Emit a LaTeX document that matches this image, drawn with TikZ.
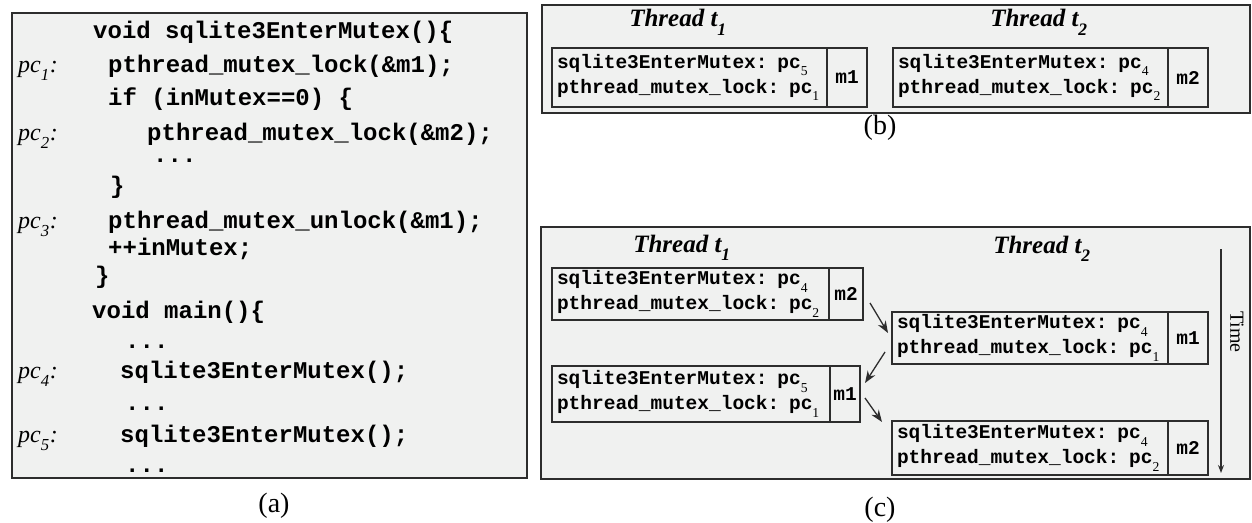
\documentclass[tikz,border=0pt]{standalone}
\usepackage{fontspec}
\setmainfont{Liberation Serif}
\newfontfamily\codefont{Liberation Mono}
\usetikzlibrary{positioning, arrows.meta}

\definecolor{panelgray}{RGB}{240,241,240}
\definecolor{linegray}{RGB}{45,45,45}
\newcommand{\lowsub}[1]{\raisebox{-0.45ex}{\textsubscript{#1}}}
\newcommand{\pcsub}[1]{pc\lowsub{\rmfamily\mdseries #1}}
\newcommand{\pclabel}[1]{pc\lowsub{#1}:}

\tikzset{
    panel/.style={draw=linegray, line width=2pt, fill=panelgray},
    codeline/.style={anchor=base west, inner sep=0pt,
        font={\codefont\bfseries\fontsize{24}{28}\selectfont}},
    pcmark/.style={anchor=base west, inner sep=0pt,
        font={\itshape\fontsize{24}{28}\selectfont}},
    threadtitle/.style={anchor=base, inner sep=0pt,
        font={\bfseries\itshape\fontsize{25}{30}\selectfont}},
    stackbox/.style={draw=linegray, fill=panelgray, line width=1.5pt, outer sep=0pt,
        anchor=north west, inner xsep=5pt, inner ysep=2pt, align=left,
        font={\codefont\bfseries\fontsize{19.5}{25}\selectfont}},
    lockbox/.style={draw=linegray, fill=panelgray, line width=1.5pt, outer sep=0pt,
        inner xsep=2pt, inner ysep=2pt,
        font={\codefont\bfseries\fontsize{19.5}{25}\selectfont}},
    flow/.style={draw=linegray, line width=1.3pt, -{Stealth[length=12pt, width=9pt]}},
    timeline/.style={draw=linegray, line width=1.2pt, -{Stealth[length=8pt, width=6pt]}},
    caption/.style={inner sep=0pt, font=\fontsize{28}{32}\selectfont}
}

\begin{document}
\begin{tikzpicture}[x=1pt, y=-1pt]
\useasboundingbox (0,0) rectangle (1252,522);

% (a) the code
\draw[panel] (12,13) rectangle (527,478);
\node[codeline] (l1) at (93,38) {void sqlite3EnterMutex()\{};
\node[codeline] (l2) at (108,72) {pthread\_mutex\_lock(\&m1);};
\node[codeline] (l3) at (108,105) {if (inMutex==0) \{};
\node[codeline] (l4) at (147,140) {pthread\_mutex\_lock(\&m2);};
\node[codeline] (l5) at (153,162) {...};
\node[codeline] (l6) at (110,193) {\}};
\node[codeline] (l7) at (108,228) {pthread\_mutex\_unlock(\&m1);};
\node[codeline] (l8) at (108,255) {++inMutex;};
\node[codeline] (l9) at (95,283) {\}};
\node[codeline] (l10) at (92,318) {void main()\{};
\node[codeline] (l11) at (125,348) {...};
\node[codeline] (l12) at (120,378) {sqlite3EnterMutex();};
\node[codeline] (l13) at (125,410) {...};
\node[codeline] (l14) at (120,442) {sqlite3EnterMutex();};
\node[codeline] (l15) at (125,472) {...};

\node[pcmark] (pc1) at (18,72) {\pclabel{1}};
\node[pcmark] (pc2) at (18,140) {\pclabel{2}};
\node[pcmark] (pc3) at (18,228) {\pclabel{3}};
\node[pcmark] (pc4) at (18,378) {\pclabel{4}};
\node[pcmark] (pc5) at (18,442) {\pclabel{5}};
\node[caption] (capa) at (274,506) {(a)};

% (b) deadlock state
\draw[panel] (542,5) rectangle (1250,113);
\node[threadtitle] (bt1) at (678,27) {Thread t\lowsub{1}};
\node[threadtitle] (bt2) at (1039,27) {Thread t\lowsub{2}};
\node[stackbox, text width=265pt, minimum height=59pt] (b1) at (552,48)
    {sqlite3EnterMutex: \pcsub{5}\\pthread\_mutex\_lock: \pcsub{1}};
\node[lockbox, minimum width=40pt, minimum height=59pt, right=0pt of b1] (b1m) {m1};
\node[stackbox, text width=265pt, minimum height=59pt] (b2) at (893,48)
    {sqlite3EnterMutex: \pcsub{4}\\pthread\_mutex\_lock: \pcsub{2}};
\node[lockbox, minimum width=40pt, minimum height=59pt, right=0pt of b2] (b2m) {m2};
\node[caption] (capb) at (880,128) {(b)};

% (c) interleaving
\draw[panel] (541,227) rectangle (1250,479);
\node[threadtitle] (ct1) at (682,252) {Thread t\lowsub{1}};
\node[threadtitle] (ct2) at (1042,253) {Thread t\lowsub{2}};
\node[stackbox, text width=267pt, minimum height=52pt] (c1) at (552,268)
    {sqlite3EnterMutex: \pcsub{4}\\pthread\_mutex\_lock: \pcsub{2}};
\node[lockbox, minimum width=34pt, minimum height=52pt, right=0pt of c1] (c1m) {m2};
\node[stackbox, text width=266pt, minimum height=52pt] (c2) at (892,312)
    {sqlite3EnterMutex: \pcsub{4}\\pthread\_mutex\_lock: \pcsub{1}};
\node[lockbox, minimum width=40pt, minimum height=52pt, right=0pt of c2] (c2m) {m1};
\node[stackbox, text width=268pt, minimum height=56pt] (c3) at (552,366)
    {sqlite3EnterMutex: \pcsub{5}\\pthread\_mutex\_lock: \pcsub{1}};
\node[lockbox, minimum width=30pt, minimum height=56pt, right=0pt of c3] (c3m) {m1};
\node[stackbox, text width=266pt, minimum height=54pt] (c4) at (892,421)
    {sqlite3EnterMutex: \pcsub{4}\\pthread\_mutex\_lock: \pcsub{2}};
\node[lockbox, minimum width=40pt, minimum height=54pt, right=0pt of c4] (c4m) {m2};

\draw[flow] ([xshift=7pt, yshift=17pt]c1m.south east) -- ([xshift=-4pt, yshift=5pt]c2.west);
\draw[flow] ([xshift=-7pt, yshift=-14pt]c2.west) -- ([xshift=5pt, yshift=11pt]c3m.east);
\draw[flow] ([xshift=5pt, yshift=-4pt]c3m.east) -- ([xshift=-10pt, yshift=26pt]c4.west);

\coordinate (tstart) at (1221,249);
\coordinate (tend) at (1221,473);
\draw[timeline] (tstart) -- (tend);
\node[rotate=-90, inner sep=0pt, font=\fontsize{20}{24}\selectfont] (time) at (1237,332) {Time};
\node[caption] (capc) at (880,510) {(c)};

\end{tikzpicture}
\end{document}
